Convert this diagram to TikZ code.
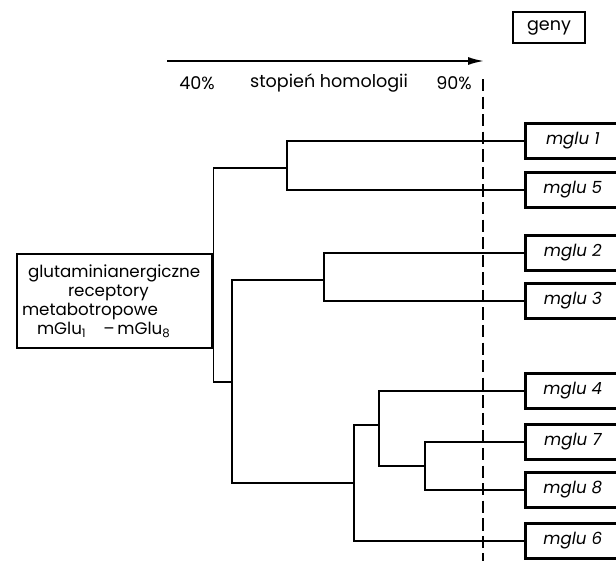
\documentclass[tikz,border=0pt]{standalone}
\usepackage{fontspec}
\setmainfont{Poppins}
\usepackage{tikz}
\usetikzlibrary{arrows,arrows.meta,positioning}

\tikzset{
	gen/.style={draw, line width=1.5pt, anchor=west, minimum width=1.9cm, minimum height=0.7cm, inner sep=0pt, font=\itshape\fontsize{9.5}{11}\selectfont},
	branch/.style={line width=0.85pt},
}

\begin{document}
\begin{tikzpicture}[x=0.02cm, y=-0.02cm]
			\clip (0,0) rectangle (616,561);
			\coordinate (left) at (167,61);
			\coordinate (right) at (484,61);
			\coordinate (top) at (483,79);
			\coordinate (bottom) at (483,561);
			% scale of homology
			\draw[-{Latex[length=3.2mm,width=1.6mm]}, line width=1pt] (left) -- (right);
			\draw (197,83) node {40\%};
			\draw (329,83) node {stopień homologii};
			\draw (454,83) node {90\%};
			\draw[line width=0.8pt, dash pattern=on 7pt off 3pt] (top) -- (bottom);
			\node[draw, line width=1.5pt, minimum width=1.44cm, minimum height=0.62cm] (geny) at (549,27.5) {geny};
			% genes
			\node[gen] (g1) at (524,141) {mglu 1};
			\node[gen] (g5) at (524,190) {mglu 5};
			\node[gen] (g2) at (524,253) {mglu 2};
			\node[gen] (g3) at (524,301) {mglu 3};
			\node[gen] (g4) at (524,391) {mglu 4};
			\node[gen] (g7) at (524,442) {mglu 7};
			\node[gen] (g8) at (524,490) {mglu 8};
			\node[gen] (g6) at (524,541) {mglu 6};
			\node[draw, line width=1.5pt, minimum width=3.9cm, minimum height=1.88cm, text width=3.9cm, inner sep=0pt, align=left, font=\fontsize{9.5}{10.8}\selectfont] (rec) at (114.5,301)
				{\hspace*{0.22cm}glutaminianergiczne\\ \hspace*{1.02cm}receptory\\ \hspace*{0.1cm}metabotropowe\\ \hspace*{0.4cm}mGlu\textsubscript{1}\quad--\,mGlu\textsubscript{8}};
			% tree
			\coordinate (n15) at (287,168);
			\coordinate (n23) at (324,280);
			\coordinate (nlow) at (232,382);
			\coordinate (n4786) at (354,483);
			\coordinate (n478) at (379,425);
			\coordinate (n78) at (425,466);
			\draw[branch] (g1.west) -| (n15) |- (g5.west);
			\draw[branch] (g2.west) -| (n23) |- (g3.west);
			\draw[branch] (g7.west) -| (n78) |- (g8.west);
			\draw[branch] (g4.west) -| (n478) |- (n78);
			\draw[branch] (n478) -| (n4786) |- (g6.west);
			\draw[branch] (n23) -| (nlow) |- (n4786);
			\draw[branch] (n15) -| (rec.east) |- (nlow);
			\end{tikzpicture}
\end{document}
